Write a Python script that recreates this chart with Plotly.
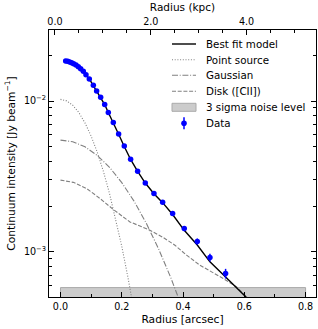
import plotly.graph_objects as go

# ---- data ----
radius = [0.0169, 0.0234, 0.0299, 0.0364, 0.0429, 0.0506, 0.0582, 0.0658, 0.0745, 0.0832,
          0.0941, 0.1072, 0.1180, 0.1311, 0.1442, 0.1561, 0.1724, 0.1898, 0.2082, 0.2289,
          0.2518, 0.2768, 0.3051, 0.3334, 0.3660, 0.4040, 0.4465, 0.4878, 0.5389]
intensity = [0.01842, 0.01833, 0.01815, 0.01797, 0.01769, 0.01734, 0.01690, 0.01639, 0.01574, 0.01495,
             0.01400, 0.01271, 0.01165, 0.01058, 0.00950, 0.00841, 0.00722, 0.00604, 0.00503, 0.00412,
             0.00343, 0.002857, 0.002440, 0.002137, 0.001797, 0.001429, 0.001172, 0.000918, 0.000719]
intensity_err = [5e-5, 5e-5, 5e-5, 5e-5, 5e-5, 5e-5, 5e-5, 5e-5, 5e-5, 5e-5,
                 5e-5, 5e-5, 5e-5, 5e-5, 5e-5, 6e-5, 6e-5, 6e-5, 6e-5, 7e-5,
                 7.5e-5, 6.6e-5, 6.8e-5, 6.6e-5, 6.1e-5, 5.6e-5, 5.5e-5, 5.3e-5, 5.3e-5]

model_r = radius + [0.62]
model_y = [0.01850, 0.01838, 0.01820, 0.01800, 0.01772, 0.01736, 0.01692, 0.01640, 0.01575, 0.01496,
           0.01400, 0.01270, 0.01163, 0.01055, 0.00948, 0.00840, 0.00720, 0.00602, 0.00500, 0.00410,
           0.00342, 0.00286, 0.00243, 0.00212, 0.00177, 0.00139, 0.00111, 0.000859, 0.000681, 0.000470]

point_r = [0.0, 0.02, 0.04, 0.06, 0.08, 0.10, 0.12, 0.14, 0.16, 0.18, 0.20, 0.22, 0.24]
point_y = [0.01026, 0.01003, 0.00938, 0.00839, 0.00716, 0.00586, 0.00458, 0.00342, 0.00244,
           0.001668, 0.001090, 0.000681, 0.000406]

gauss_r = [0.0, 0.04, 0.08, 0.12, 0.16, 0.20, 0.24, 0.28, 0.32, 0.36, 0.40]
gauss_y = [0.00551, 0.00537, 0.00497, 0.00436, 0.00364, 0.00288, 0.00217, 0.00155, 0.001049,
           0.000675, 0.000412]

disk_r = [0.0, 0.0419, 0.0854, 0.1289, 0.1724, 0.2268, 0.2920, 0.3355, 0.3736, 0.4117,
          0.4551, 0.4889, 0.5313, 0.5748, 0.6075, 0.62]
disk_y = [0.00299, 0.00289, 0.00263, 0.00226, 0.00191, 0.00158, 0.001393, 0.001246, 0.001107,
          0.000951, 0.000816, 0.000748, 0.000666, 0.000586, 0.000503, 0.000474]

noise_r = [0.0, 0.8]
noise_level = 5.8e-4
noise_floor = 1e-4

x_ticks = [0.0, 0.2, 0.4, 0.6, 0.8]
x_minor = [0.1, 0.3, 0.5, 0.7]
kpc_ticks = [0.0, 2.0, 4.0]
kpc_minor = [0.5, 1.0, 1.5, 2.5, 3.0, 3.5, 4.5, 5.0]
y_ticks = [1e-3, 1e-2]
y_minor = [6e-4, 7e-4, 8e-4, 9e-4, 2e-3, 3e-3, 4e-3, 5e-3, 6e-3, 7e-3, 8e-3, 9e-3, 2e-2]

legend_labels = ["Best fit model", "Point source", "Gaussian", "Disk ([CII])",
                 "3 sigma noise level", "Data"]

FONT = "DejaVu Sans"
GREY = "#808080"
DASH_POINT = "1px,1.7px"
DASH_GAUSS = "6px,1.7px,1px,1.7px"
DASH_DISK = "4px,1.7px"

W, H = 318, 329
ML, MR, MT, MB = 49, 2, 30, 32
PW, PH = W - ML - MR, H - MT - MB


def px(x):
    return (x - ML) / PW


def py(y):
    return (H - MB - y) / PH


fig = go.Figure()

fig.add_trace(go.Scatter(
    x=[noise_r[0], noise_r[1], noise_r[1], noise_r[0], noise_r[0]],
    y=[noise_floor, noise_floor, noise_level, noise_level, noise_floor],
    mode="lines", fill="toself", fillcolor="#cccccc",
    line=dict(color="#aaaaaa", width=1), name=legend_labels[4], hoverinfo="skip"))
fig.add_trace(go.Scatter(x=point_r, y=point_y, mode="lines", name=legend_labels[1],
                         line=dict(color=GREY, width=1.1, dash=DASH_POINT)))
fig.add_trace(go.Scatter(x=gauss_r, y=gauss_y, mode="lines", name=legend_labels[2],
                         line=dict(color=GREY, width=1.1, dash=DASH_GAUSS)))
fig.add_trace(go.Scatter(x=disk_r, y=disk_y, mode="lines", name=legend_labels[3],
                         line=dict(color=GREY, width=1.1, dash=DASH_DISK)))
fig.add_trace(go.Scatter(x=model_r, y=model_y, mode="lines", name=legend_labels[0],
                         line=dict(color="black", width=1.4)))
fig.add_trace(go.Scatter(x=radius, y=intensity, mode="markers", name=legend_labels[5],
                         marker=dict(color="#0000ff", size=5.5, line=dict(width=0)),
                         error_y=dict(type="data", array=intensity_err, color="#0000ff",
                                      thickness=1.5, width=0)))

# invisible trace to activate the top (kpc) axis
fig.add_trace(go.Scatter(x=kpc_ticks, y=[1e-2] * len(kpc_ticks), xaxis="x2", mode="markers",
                         marker=dict(opacity=0), showlegend=False, hoverinfo="skip"))

# ---- legend drawn as shapes + text (matplotlib-like compact spacing) ----
row_y = [44, 59.7, 75.3, 91.2, 107.3, 123.3]
sx0, sx1, tx = 172, 196, 204
styles = [("black", 1.4, "solid"), (GREY, 1.1, DASH_POINT), (GREY, 1.1, DASH_GAUSS),
          (GREY, 1.1, DASH_DISK)]
shapes = []
for i, (c, w, d) in enumerate(styles):
    shapes.append(dict(type="line", xref="paper", yref="paper", x0=px(sx0), x1=px(sx1),
                       y0=py(row_y[i]), y1=py(row_y[i]), line=dict(color=c, width=w, dash=d)))
shapes.append(dict(type="rect", xref="paper", yref="paper", x0=px(sx0), x1=px(sx1),
                   y0=py(row_y[4] + 4), y1=py(row_y[4] - 4), fillcolor="#cccccc",
                   line=dict(color="#aaaaaa", width=1)))
cx = (sx0 + sx1) / 2
shapes.append(dict(type="line", xref="paper", yref="paper", x0=px(cx), x1=px(cx),
                   y0=py(row_y[5] - 6), y1=py(row_y[5] + 6), line=dict(color="#0000ff", width=1.5)))
shapes.append(dict(type="circle", xref="paper", yref="paper", x0=px(cx - 2.8), x1=px(cx + 2.8),
                   y0=py(row_y[5] + 2.8), y1=py(row_y[5] - 2.8), fillcolor="#0000ff",
                   line=dict(width=0)))
annotations = []
for i, lab in enumerate(legend_labels):
    annotations.append(dict(text=lab, xref="paper", yref="paper", x=px(tx), y=py(row_y[i]),
                            xanchor="left", yanchor="middle", showarrow=False,
                            font=dict(family=FONT, size=10.3, color="black")))

axis_common = dict(showgrid=False, zeroline=False, showline=True, linecolor="black",
                   linewidth=1.1, ticks="inside", ticklen=4.5, tickwidth=1, tickcolor="black",
                   tickfont=dict(family=FONT, size=9.6, color="black"))

fig.update_layout(
    width=W, height=H,
    margin=dict(l=ML, r=MR, t=MT, b=MB),
    paper_bgcolor="white", plot_bgcolor="white",
    font=dict(family=FONT, size=10, color="black"),
    showlegend=False,
    shapes=shapes, annotations=annotations,
    xaxis=dict(range=[-0.0375, 0.834], tickvals=x_ticks,
               ticktext=[f"{v:.1f}" for v in x_ticks], mirror=False,
               minor=dict(tickvals=x_minor, ticks="inside", ticklen=2.5, tickcolor="black"),
               title=dict(text="Radius [arcsec]", font=dict(family=FONT, size=10.7), standoff=4),
               **axis_common),
    xaxis2=dict(range=[-0.125, 5.45], overlaying="x", side="top", anchor="y",
                tickvals=kpc_ticks, ticktext=[f"{v:.1f}" for v in kpc_ticks],
                minor=dict(tickvals=kpc_minor, ticks="inside", ticklen=2.5, tickcolor="black"),
                title=dict(text="Radius (kpc)", font=dict(family=FONT, size=10.5), standoff=2),
                **axis_common),
    yaxis=dict(type="log", range=[-3.299, -1.529], tickvals=y_ticks,
               ticktext=["10<sup>−3</sup>", "10<sup>−2</sup>"], mirror="ticks",
               minor=dict(tickvals=y_minor, ticks="inside", ticklen=2.5, tickcolor="black"),
               title=dict(text="Continuum intensity [Jy beam<sup>−1</sup>]",
                          font=dict(family=FONT, size=10.7), standoff=6),
               **axis_common),
)

fig.write_html("out.html", config={"displayModeBar": False},
               post_script="document.body.style.margin='0';")
